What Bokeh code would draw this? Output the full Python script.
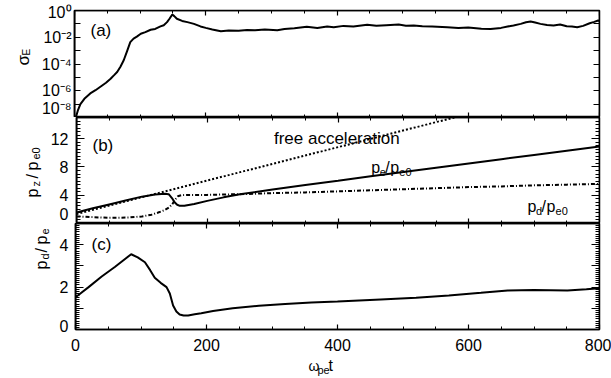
import math
from bokeh.plotting import figure
from bokeh.layouts import column, row
from bokeh.models import (LinearAxis, LogAxis, FixedTicker, SingleIntervalTicker,
                          Label, Range1d, CustomJSTickFormatter)
from bokeh.embed import file_html
from bokeh.resources import INLINE

# ---------------- data ----------------
# panel (a): sigma_E
t_a = [0, 2, 5, 9, 15, 24, 32, 40, 48, 55, 60, 65, 70, 75, 80, 85, 90, 95, 101, 108,
       116, 123, 131, 136, 141, 145, 149, 152, 156, 164, 172, 182, 192, 200, 210, 223,
       235, 250, 263, 275, 290, 309, 320, 335, 354, 370, 385, 395, 410, 425, 446, 460,
       475, 494, 505, 517, 530, 545, 568, 585, 600, 620, 634, 650, 660, 669, 680, 688,
       695, 702, 710, 720, 730, 740, 750, 758, 766, 775, 785, 792, 798, 800]
sigma_e = [2.5e-9, 1.0e-8, 3.2e-8, 1.0e-7, 2.5e-7, 6.3e-7, 1.1e-6, 2.1e-6, 4.0e-6, 7.9e-6,
           1.4e-5, 2.5e-5, 6.3e-5, 1.9e-4, 8.9e-4, 4.3e-3, 7.9e-3, 0.0112, 0.0182, 0.024,
           0.0363, 0.0417, 0.0646, 0.0794, 0.135, 0.251, 0.501, 0.38, 0.24, 0.166, 0.135,
           0.1, 0.0646, 0.0501, 0.038, 0.0282, 0.0316, 0.0302, 0.0355, 0.0331, 0.038,
           0.0339, 0.0417, 0.0468, 0.0603, 0.0501, 0.0631, 0.055, 0.0708, 0.0631, 0.0871,
           0.0724, 0.0794, 0.0891, 0.0724, 0.0759, 0.0661, 0.0631, 0.0562, 0.0501, 0.0525,
           0.0437, 0.0417, 0.0501, 0.0631, 0.0759, 0.1, 0.132, 0.148, 0.126, 0.1, 0.0832,
           0.0759, 0.0891, 0.0661, 0.0631, 0.0562, 0.0708, 0.112, 0.141, 0.178, 0.166]

# panel (b)
t_free = [0, 620]
p_free = [1.35, 16.0]
t_pe = [0, 25, 50, 75, 100, 120, 135, 141, 146, 150, 154, 158, 165, 180, 200, 225, 250,
        300, 350, 400, 450, 500, 550, 600, 650, 700, 750, 800]
p_pe = [1.55, 2.15, 2.7, 3.25, 3.8, 4.1, 4.2, 4.15, 3.6, 3.0, 2.65, 2.5, 2.5, 2.75, 3.2,
        3.7, 4.15, 4.8, 5.45, 6.05, 6.7, 7.3, 7.9, 8.5, 9.1, 9.7, 10.3, 10.9]
t_pd = [0, 25, 50, 80, 100, 115, 125, 135, 142, 147, 151, 155, 160, 170, 200, 250, 300,
        350, 400, 450, 500, 550, 600, 650, 700, 750, 800]
p_pd = [1.0, 0.9, 0.8, 0.85, 1.0, 1.25, 1.55, 1.9, 2.3, 2.8, 3.4, 3.85, 4.0, 4.05, 4.05,
        4.15, 4.3, 4.4, 4.55, 4.7, 4.85, 5.0, 5.15, 5.25, 5.4, 5.5, 5.6]

# panel (c)
t_c = [0, 20, 40, 60, 85, 95, 106, 114, 121, 130, 139, 144, 149, 154, 159, 165, 172, 182,
       192, 210, 240, 280, 320, 360, 400, 466, 520, 570, 619, 660, 700, 751, 780, 800]
ratio_c = [1.52, 2.0, 2.5, 2.95, 3.55, 3.4, 3.17, 2.8, 2.44, 2.2, 2.0, 1.7, 1.13, 0.85,
           0.71, 0.66, 0.66, 0.72, 0.77, 0.87, 1.0, 1.12, 1.2, 1.27, 1.32, 1.42, 1.5, 1.6,
           1.73, 1.84, 1.86, 1.84, 1.9, 1.95]

# ticks and tick labels (label anchors sit where the reference prints them)
a_ticks = [1e-8, 1e-7, 1e-6, 1e-5, 1e-4, 1e-3, 1e-2, 1e-1, 1.0]
a_label_pos = [4.7e-8, 1e-6, 1e-4, 1e-2, 0.7]
a_label_txt = ["10\u207b\u2078", "10\u207b\u2076", "10\u207b\u2074", "10\u207b\u00b2", "10\u2070"]
b_label_pos = [1.3, 4, 8, 12]
b_label_txt = ["0", "4", "8", "12"]
c_label_pos = [0.15, 2, 4]
c_label_txt = ["0", "2", "4"]

FONT = "Liberation Sans"
xr = Range1d(0, 800)
blank = CustomJSTickFormatter(code="return ''")


def make_fig(width, height, y_range, left, top, bottom, log=False):
    p = figure(width=width, height=height, x_range=xr, y_range=y_range,
               y_axis_type="log" if log else "linear",
               x_axis_location=None, y_axis_location=None,
               output_backend="svg", toolbar_location=None,
               min_border_left=left, min_border_right=12,
               min_border_top=top, min_border_bottom=bottom)
    p.grid.visible = False
    p.outline_line_color = "black"
    p.outline_line_width = 1.5
    p.background_fill_color = "white"
    p.border_fill_color = "white"
    return p


def strip(width, height):
    s = figure(width=width, height=height, x_range=Range1d(0, width), y_range=Range1d(0, height),
               x_axis_location=None, y_axis_location=None,
               output_backend="svg", toolbar_location=None,
               min_border_left=0, min_border_right=0, min_border_top=0, min_border_bottom=0)
    s.grid.visible = False
    s.outline_line_color = None
    s.background_fill_color = "white"
    s.border_fill_color = "white"
    return s


def style(ax, major_in, minor_in, labels=True, standoff=6):
    ax.major_tick_in = major_in
    ax.major_tick_out = 0
    ax.minor_tick_in = minor_in
    ax.minor_tick_out = 0
    ax.axis_line_width = 1.5
    ax.axis_line_color = "black"
    ax.major_tick_line_width = 1.2
    ax.minor_tick_line_width = 1
    ax.major_tick_line_color = "black"
    ax.minor_tick_line_color = "black"
    if labels:
        ax.major_label_text_font = FONT
        ax.major_label_text_font_size = "16px"
        ax.major_label_text_color = "black"
        ax.major_label_standoff = standoff
    return ax


def xticker():
    return SingleIntervalTicker(interval=200, num_minor_ticks=4)


def y_axes(p, yticker_factory, label_pos, label_txt, standoff, ymaj, ymin, log=False):
    AxY = LogAxis if log else LinearAxis
    lab = AxY(ticker=FixedTicker(ticks=label_pos, minor_ticks=[]),
              major_label_overrides=dict(zip(label_pos, label_txt)))
    style(lab, 0, 0, standoff=standoff)
    p.add_layout(lab, "left")
    p.add_layout(style(AxY(ticker=yticker_factory(), formatter=blank, fixed_location=0),
                       ymaj, ymin, labels=False), "left")
    p.add_layout(style(AxY(ticker=yticker_factory(), formatter=blank, fixed_location=800),
                       ymaj, ymin, labels=False), "right")


def x_axes(p, ytop, ybot):
    p.add_layout(style(LinearAxis(ticker=xticker(), formatter=blank, fixed_location=ytop),
                       5, 3, labels=False), "above")
    if ybot is not None:
        p.add_layout(style(LinearAxis(ticker=xticker(), formatter=blank, fixed_location=ybot),
                           5, 3, labels=False), "below")


def text_parts(p, parts, x, y, units="data"):
    for txt, size, dx, dy in parts:
        p.add_layout(Label(x=x, y=y, x_units=units, y_units=units, x_offset=dx, y_offset=dy,
                           text=txt, text_font=FONT, text_font_size=f"{size}px",
                           text_color="black", text_baseline="alphabetic", text_align="left"))


def rot_parts(p, parts):
    for txt, size, sx, sy in parts:
        p.add_layout(Label(x=sx, y=sy, x_units="screen", y_units="screen",
                           angle=math.pi / 2, angle_units="rad",
                           text=txt, text_font=FONT, text_font_size=f"{size}px",
                           text_color="black", text_baseline="alphabetic", text_align="left"))


# ---------------- panel (a) ----------------
pa = make_fig(574, 117, Range1d(1e-8, 1.0), 37, 10, 0, log=True)
pa.line(t_a, sigma_e, line_color="black", line_width=2)
y_axes(pa, lambda: FixedTicker(ticks=a_ticks, minor_ticks=[]), a_label_pos, a_label_txt,
       3, 6, 0, log=True)
x_axes(pa, 1.0, 1e-8)
text_parts(pa, [("(a)", 17, 0, 0)], 16, 87, units="screen")
sa = strip(37, 117)
rot_parts(sa, [("\u03c3", 17, 23, 52), ("E", 10, 26, 62)])

# ---------------- panel (b) ----------------
pb = make_fig(564, 106, Range1d(0, 15), 27, 0, 0)
pb.line(t_free, p_free, line_color="black", line_width=2, line_dash="2 2")
pb.line(t_pe, p_pe, line_color="black", line_width=2)
pb.line(t_pd, p_pd, line_color="black", line_width=2, line_dash="4 2 1 2")
y_axes(pb, lambda: SingleIntervalTicker(interval=4, num_minor_ticks=8), b_label_pos, b_label_txt,
       8, 8, 4)
x_axes(pb, 15, 0)
text_parts(pb, [("(b)", 17, 0, 0)], 16, 78, units="screen")
text_parts(pb, [("free acceleration", 17, 0, 0)], 302, 12.0)
text_parts(pb, [("p", 16, 0, 0), ("e", 11, 8.5, -4), ("/", 16, 14, 0),
                ("p", 16, 19, 0), ("e0", 11, 28, -4)], 451, 7.9)
text_parts(pb, [("p", 16, 0, 0), ("d", 11, 8.5, -4), ("/", 16, 14, 0),
                ("p", 16, 19, 0), ("e0", 11, 28, -4)], 690, 2.4)
sb = strip(47, 106)
rot_parts(sb, [("p", 16, 32, 26), ("z", 11, 35, 37), ("/", 16, 32, 45),
               ("p", 16, 32, 53), ("e0", 11, 35, 64)])

# ---------------- panel (c) ----------------
pc = make_fig(555, 134, Range1d(0, 5), 18, 0, 28)
pc.line(t_c, ratio_c, line_color="black", line_width=2)
y_axes(pc, lambda: SingleIntervalTicker(interval=1, num_minor_ticks=10), c_label_pos, c_label_txt,
       7, 8, 4)
bc = LinearAxis(ticker=xticker())
pc.add_layout(style(bc, 5, 3, standoff=9), "below")
x_axes(pc, 5, None)
text_parts(pc, [("(c)", 17, 0, 0)], 16, 85, units="screen")
sc = strip(56, 134)
rot_parts(sc, [("p", 16, 41, 60), ("d", 11, 44, 70), ("/", 16, 41, 77),
               ("p", 16, 41, 85), ("e", 11, 44, 95)])

# ---------------- x label strip ----------------
sx = strip(611, 21)
text_parts(sx, [("\u03c9", 14, 0, 0), ("pe", 11, 9, -4), ("t", 16, 20, 0)], 308, 13, units="screen")

layout = column(row(sa, pa), row(sb, pb), row(sc, pc), sx)
open("out.html", "w").write(file_html(layout, INLINE))
